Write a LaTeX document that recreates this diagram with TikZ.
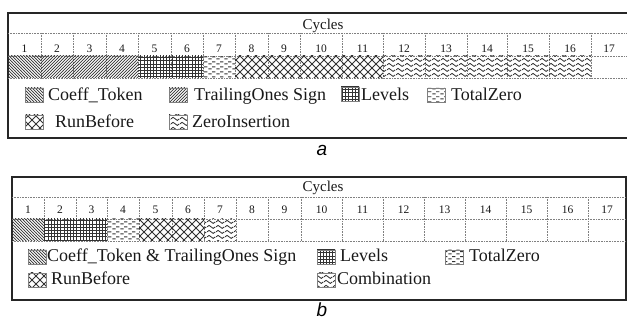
\documentclass[tikz,border=0pt]{standalone}
\usepackage{fontspec}
\setmainfont{Liberation Serif}
\newfontfamily\capfont{Liberation Sans}
\usetikzlibrary{patterns}
\pgfdeclarepatternformonly{pnw}{\pgfqpoint{-1pt}{-1pt}}{\pgfqpoint{4pt}{4pt}}{\pgfqpoint{3pt}{3pt}}{%
  \pgfsetlinewidth{0.7pt}\pgfpathmoveto{\pgfqpoint{0pt}{3pt}}\pgfpathlineto{\pgfqpoint{3.1pt}{-0.1pt}}\pgfusepath{stroke}}
\pgfdeclarepatternformonly{pne}{\pgfqpoint{-1pt}{-1pt}}{\pgfqpoint{4pt}{4pt}}{\pgfqpoint{3pt}{3pt}}{%
  \pgfsetlinewidth{0.7pt}\pgfpathmoveto{\pgfqpoint{0pt}{0pt}}\pgfpathlineto{\pgfqpoint{3.1pt}{3.1pt}}\pgfusepath{stroke}}
\pgfdeclarepatternformonly{pgrid}{\pgfqpoint{-1pt}{-1pt}}{\pgfqpoint{4pt}{4pt}}{\pgfqpoint{3.2pt}{3.2pt}}{%
  \pgfsetlinewidth{0.8pt}\pgfpathmoveto{\pgfqpoint{0pt}{0pt}}\pgfpathlineto{\pgfqpoint{3.3pt}{0pt}}%
  \pgfpathmoveto{\pgfqpoint{0pt}{0pt}}\pgfpathlineto{\pgfqpoint{0pt}{3.3pt}}\pgfusepath{stroke}}
\pgfdeclarepatternformonly{pdiam}{\pgfqpoint{-1pt}{-1pt}}{\pgfqpoint{9pt}{9pt}}{\pgfqpoint{8pt}{8pt}}{%
  \pgfsetlinewidth{0.9pt}\pgfpathmoveto{\pgfqpoint{0pt}{0pt}}\pgfpathlineto{\pgfqpoint{8.1pt}{8.1pt}}%
  \pgfpathmoveto{\pgfqpoint{0pt}{8pt}}\pgfpathlineto{\pgfqpoint{8.1pt}{-0.1pt}}\pgfusepath{stroke}}
\pgfdeclarepatternformonly{pdash}{\pgfqpoint{0pt}{0pt}}{\pgfqpoint{8pt}{5pt}}{\pgfqpoint{8pt}{5pt}}{%
  \pgfsetlinewidth{1.1pt}\pgfpathmoveto{\pgfqpoint{0.5pt}{1.2pt}}\pgfpathlineto{\pgfqpoint{4pt}{1.2pt}}%
  \pgfpathmoveto{\pgfqpoint{4.5pt}{3.7pt}}\pgfpathlineto{\pgfqpoint{8pt}{3.7pt}}\pgfusepath{stroke}}
\pgfdeclarepatternformonly{pwave}{\pgfqpoint{0pt}{0pt}}{\pgfqpoint{9pt}{4.5pt}}{\pgfqpoint{9pt}{4.5pt}}{%
  \pgfsetlinewidth{0.9pt}\pgfpathmoveto{\pgfqpoint{0pt}{2.25pt}}%
  \pgfpathcurveto{\pgfqpoint{1.5pt}{4.4pt}}{\pgfqpoint{3pt}{4.4pt}}{\pgfqpoint{4.5pt}{2.25pt}}%
  \pgfpathcurveto{\pgfqpoint{6pt}{0.1pt}}{\pgfqpoint{7.5pt}{0.1pt}}{\pgfqpoint{9pt}{2.25pt}}\pgfusepath{stroke}}
\tikzset{
  frame/.style={draw=black!85, line width=1.8pt},
  grid line/.style={draw=gray, densely dotted, line width=0.6pt},
  numtxt/.style={font=\fontsize{11.5}{12}\selectfont, anchor=base, inner sep=0, text=black!90},
  cyc/.style={font=\fontsize{15}{16}\selectfont, anchor=base, inner sep=0, text=black!90},
  legtxt/.style={font=\fontsize{18}{20}\selectfont, anchor=base west, inner sep=0, text=black!90},
  legbox/.style={draw=gray, line width=0.7pt, minimum width=18pt, minimum height=14pt, inner sep=0, pattern color=black!80},
  cell/.style={pattern color=black!80},
  captxt/.style={font=\capfont\itshape\fontsize{19}{20}\selectfont, anchor=base, inner sep=0},
}
\begin{document}
\begin{tikzpicture}[x=1pt,y=-1pt]
\useasboundingbox (0,0) rectangle (627,320);
% ---------------- panel a ----------------
\begin{scope}
\clip (0,0) rectangle (627,160);
\draw[frame] (8,13) rectangle (640,138);
\end{scope}
\draw[grid line] (8,33) -- (627,33);
\draw[grid line] (8,56) -- (627,56);
\draw[grid line] (8,78) -- (627,78);
\node[cyc] (cyca) at (323,30) {Cycles};
\foreach \l/\r [count=\i] in {8/41,41/73,73/106,106/138,138/171,171/203,203/235,235/268,268/300,300/342,342/383,383/425,425/467,467/507,507/549,549/591,591/627}{
  \node[numtxt] (na\i) at ({(\l+\r)/2},53) {\i};
  \ifnum\i>1 \draw[grid line] (\l,33) -- (\l,78); \fi
}
\fill[cell, pattern=pnw] (8,56) rectangle (41,78);
\fill[cell, pattern=pne] (41,56) rectangle (138,78);
\fill[cell, pattern=pgrid] (138,56) rectangle (203,78);
\fill[cell, pattern=pdash] (203,56) rectangle (235,78);
\fill[cell, pattern=pdiam] (235,56) rectangle (383,78);
\fill[cell, pattern=pwave] (383,56) rectangle (591,78);
% legend a
\node[legbox, pattern=pnw] (la1) at (34,95) {};
\node[legtxt] (ta1) at (48,101) {Coeff\_Token};
\node[legbox, pattern=pne] (la2) at (178,95) {};
\node[legtxt] (ta2) at (194,101) {TrailingOnes Sign};
\node[legbox, pattern=pgrid] (la3) at (350,94) {};
\node[legtxt] (ta3) at (361,101) {Levels};
\node[legbox, pattern=pdash] (la4) at (436,95) {};
\node[legtxt] (ta4) at (451,101) {TotalZero};
\node[legbox, pattern=pdiam] (la5) at (34,122) {};
\node[legtxt] (ta5) at (55,128) {RunBefore};
\node[legbox, pattern=pwave] (la6) at (178,122) {};
\node[legtxt] (ta6) at (192,128) {ZeroInsertion};
\node[captxt] (capa) at (322,156) {a};
% ---------------- panel b ----------------
\draw[frame] (12,177) rectangle (626,300);
\draw[grid line] (12,197) -- (626,197);
\draw[grid line] (12,219) -- (626,219);
\draw[grid line] (12,241) -- (626,241);
\node[cyc] (cycb) at (323,192) {Cycles};
\foreach \l/\r [count=\i] in {12/44,44/76,76/107,107/139,139/172,172/204,204/236,236/268,268/301,301/342,342/383,383/424,424/465,465/506,506/547,547/588,588/626}{
  \node[numtxt] (nb\i) at ({(\l+\r)/2},214) {\i};
  \ifnum\i>1 \draw[grid line] (\l,197) -- (\l,241); \fi
}
\fill[cell, pattern=pnw] (12,219) rectangle (44,241);
\fill[cell, pattern=pgrid] (44,219) rectangle (107,241);
\fill[cell, pattern=pdash] (107,219) rectangle (139,241);
\fill[cell, pattern=pdiam] (139,219) rectangle (204,241);
\fill[cell, pattern=pwave] (204,219) rectangle (236,241);
% legend b
\node[legbox, pattern=pnw] (lb1) at (37,257) {};
\node[legtxt] (tb1) at (47,262) {Coeff\_Token \& TrailingOnes Sign};
\node[legbox, pattern=pgrid] (lb2) at (326,257) {};
\node[legtxt] (tb2) at (340,262) {Levels};
\node[legbox, pattern=pdash] (lb3) at (454,257) {};
\node[legtxt] (tb3) at (469,262) {TotalZero};
\node[legbox, pattern=pdiam] (lb4) at (37,280) {};
\node[legtxt] (tb4) at (51,285) {RunBefore};
\node[legbox, pattern=pwave] (lb5) at (326,280) {};
\node[legtxt] (tb5) at (337,285) {Combination};
\node[captxt] (capb) at (322,317) {b};
\end{tikzpicture}
\end{document}
